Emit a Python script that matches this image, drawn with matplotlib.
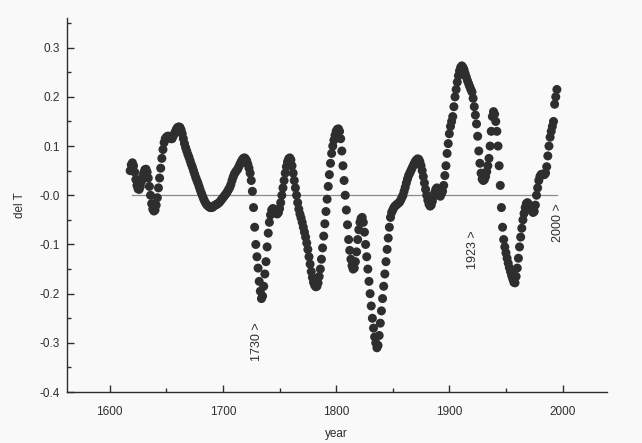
import numpy as np
import matplotlib
matplotlib.use("Agg")
from matplotlib import pyplot as plt
from matplotlib.ticker import MultipleLocator

plt.rcParams['font.family'] = ['Liberation Sans', 'DejaVu Sans']

# Annual values of del T, 1618..1995
years = np.arange(1618, 1996)
del_t = [
    0.05, 0.062, 0.066, 0.06, 0.047, 0.032, 0.02, 0.013, 0.012, 0.018, 0.028, 0.038,    # 1618-1629
    0.046, 0.052, 0.053, 0.047, 0.035, 0.018, 0.0, -0.017, -0.028, -0.032,              # 1630s
    -0.03, -0.02, -0.005, 0.015, 0.035, 0.055, 0.075, 0.093, 0.107, 0.115,              # 1640s
    0.118, 0.12, 0.12, 0.118, 0.115, 0.115, 0.12, 0.125, 0.13, 0.135,                   # 1650s
    0.138, 0.139, 0.138, 0.133, 0.125, 0.115, 0.105, 0.097, 0.09, 0.083,                # 1660s
    0.077, 0.07, 0.063, 0.057, 0.05, 0.043, 0.036, 0.03, 0.024, 0.017,                  # 1670s
    0.01, 0.004, -0.002, -0.008, -0.013, -0.017, -0.02, -0.022, -0.024, -0.025,         # 1680s
    -0.025, -0.024, -0.022, -0.02, -0.019, -0.018, -0.016, -0.014, -0.011, -0.008,      # 1690s
    -0.005, -0.002, 0.001, 0.004, 0.008, 0.012, 0.016, 0.022, 0.03, 0.037,              # 1700s
    0.043, 0.047, 0.05, 0.053, 0.058, 0.063, 0.068, 0.072, 0.075, 0.076,                # 1710s
    0.074, 0.07, 0.063, 0.055, 0.045, 0.03, 0.008, -0.025, -0.065, -0.1,                # 1720s
    -0.125, -0.148, -0.175, -0.195, -0.21, -0.205, -0.185, -0.16, -0.135, -0.105,       # 1730s
    -0.077, -0.055, -0.04, -0.03, -0.027, -0.028, -0.032, -0.036, -0.038, -0.035,       # 1740s
    -0.027, -0.015, 0.0, 0.015, 0.03, 0.045, 0.058, 0.068, 0.074, 0.076,                # 1750s
    0.072, 0.06, 0.045, 0.03, 0.015, 0.0, -0.015, -0.028, -0.038, -0.046,               # 1760s
    -0.055, -0.065, -0.075, -0.085, -0.097, -0.11, -0.125, -0.14, -0.155, -0.167,       # 1770s
    -0.177, -0.183, -0.186, -0.185, -0.178, -0.165, -0.15, -0.13, -0.107, -0.083,       # 1780s
    -0.058, -0.033, -0.008, 0.018, 0.042, 0.065, 0.085, 0.1, 0.112, 0.122,              # 1790s
    0.13, 0.134, 0.135, 0.13, 0.115, 0.09, 0.06, 0.03, 0.0, -0.03,                      # 1800s
    -0.06, -0.09, -0.112, -0.13, -0.143, -0.15, -0.148, -0.135, -0.115, -0.09,          # 1810s
    -0.07, -0.055, -0.047, -0.045, -0.055, -0.075, -0.1, -0.125, -0.15, -0.175,         # 1820s
    -0.2, -0.225, -0.25, -0.27, -0.288, -0.3, -0.31, -0.305, -0.285, -0.26,             # 1830s
    -0.235, -0.21, -0.185, -0.16, -0.135, -0.11, -0.087, -0.065, -0.045, -0.035,        # 1840s
    -0.03, -0.025, -0.022, -0.02, -0.018, -0.016, -0.014, -0.01, -0.005, 0.0,           # 1850s
    0.008, 0.016, 0.025, 0.033, 0.04, 0.045, 0.05, 0.055, 0.06, 0.065,                  # 1860s
    0.069, 0.072, 0.074, 0.073, 0.068, 0.06, 0.05, 0.038, 0.025, 0.012,                 # 1870s
    0.0, -0.01, -0.018, -0.022, -0.02, -0.012, -0.003, 0.005, 0.012, 0.015,             # 1880s
    0.012, 0.005, -0.002, 0.003, 0.008, 0.02, 0.04, 0.06, 0.085, 0.105,                 # 1890s
    0.125, 0.14, 0.15, 0.16, 0.18, 0.2, 0.215, 0.23, 0.243, 0.253,                      # 1900s
    0.26, 0.263, 0.26, 0.255, 0.247, 0.24, 0.233, 0.227, 0.221, 0.215,                  # 1910s
    0.21, 0.197, 0.18, 0.163, 0.145, 0.12, 0.09, 0.065, 0.045, 0.033,                   # 1920s
    0.03, 0.032, 0.038, 0.048, 0.06, 0.075, 0.1, 0.13, 0.16, 0.17,                      # 1930s
    0.165, 0.15, 0.13, 0.1, 0.06, 0.02, -0.025, -0.065, -0.09, -0.105,                  # 1940s
    -0.117, -0.128, -0.138, -0.147, -0.155, -0.163, -0.17, -0.177, -0.178, -0.165,      # 1950s
    -0.148, -0.128, -0.105, -0.085, -0.067, -0.05, -0.037, -0.025, -0.017, -0.015,      # 1960s
    -0.018, -0.022, -0.028, -0.032, -0.035, -0.033, -0.02, 0.0, 0.015, 0.03,            # 1970s
    0.038, 0.042, 0.043, 0.042, 0.042, 0.045, 0.058, 0.08, 0.1, 0.118,                  # 1980s
    0.13, 0.14, 0.15, 0.185, 0.2, 0.215,                                                # 1990-1995
]

# zero reference line
zero_years = [1620, 1995]
zero_vals = [0.0, 0.0]

# vertical labels under the curve
note_years = [1730, 1921, 1996]
note_y = [-0.298, -0.11, -0.055]
note_text = ["1730 >", "1923 >", "2000 >"]

y_ticks = [-0.4, -0.3, -0.2, -0.1, 0.0, 0.1, 0.2, 0.3]
y_tick_labels = ["-0.4", "-0.3", "-0.2", "-0.1", "-0.0", "0.1", "0.2", "0.3"]
x_ticks = [1600, 1700, 1800, 1900, 2000]

bg = '#f9f9f9'
ink = '#2e2e2e'

fig = plt.figure(figsize=(6.42, 4.43), dpi=100, facecolor=bg)
ax = fig.add_axes([0.104, 0.115, 0.841, 0.844], facecolor=bg)

ax.plot(zero_years, zero_vals, color='#8a8a8a', lw=0.9, zorder=1)
ax.scatter(years, del_t, s=42, color=ink, edgecolors='none', zorder=2)

for xv, yv, t in zip(note_years, note_y, note_text):
    ax.text(xv, yv, t, rotation=90, ha='center', va='center', fontsize=9, color=ink)

ax.set_xlim(1562, 2039)
ax.set_ylim(-0.4, 0.36)
ax.set_xticks(x_ticks)
ax.set_yticks(y_ticks)
ax.set_yticklabels(y_tick_labels)
ax.xaxis.set_minor_locator(MultipleLocator(50))
ax.yaxis.set_minor_locator(MultipleLocator(0.05))
ax.tick_params(which='both', direction='in', colors=ink, labelsize=8.5, width=1)
ax.tick_params(which='major', length=5)
ax.tick_params(which='minor', length=3)
ax.tick_params(axis='x', pad=10)
ax.tick_params(axis='y', pad=5)

for side in ['top', 'right']:
    ax.spines[side].set_visible(False)
for side in ['left', 'bottom']:
    ax.spines[side].set_color(ink)
    ax.spines[side].set_linewidth(1.0)

ax.set_xlabel("year", fontsize=8.5, color=ink, labelpad=7)
ax.set_ylabel("del T", fontsize=8.5, color=ink, labelpad=10)

fig.savefig("out.png", dpi=100, facecolor=bg)
